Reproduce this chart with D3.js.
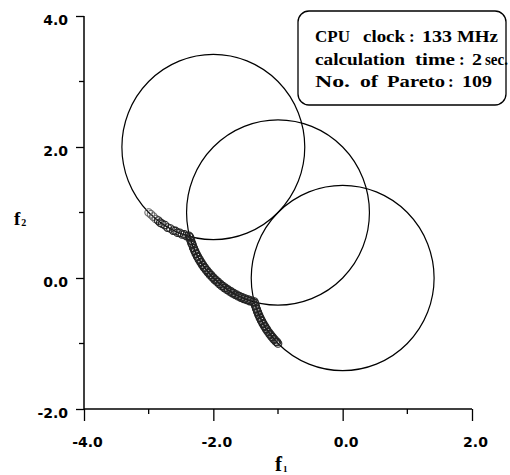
<!DOCTYPE html>
<html>
<head>
<meta charset="utf-8">
<script src="https://cdn.jsdelivr.net/npm/d3@7"></script>
<style>
  html, body { margin: 0; padding: 0; background: #fff; }
  svg { display: block; }
</style>
</head>
<body>
<div id="chart"></div>
<script>
// ---- data ----
const xTickValues = [-4, -2, 0, 2];
const xTickLabels = ["-4.0", "-2.0", "0.0", "2.0"];
const xMinorTicks = [-3, -1, 1];
const yTickValues = [-2, 0, 2, 4];
const yTickLabels = ["-2.0", "0.0", "2.0", "4.0"];
const yMinorTicks = [-1, 1, 3];

// constraint circles
const circleCx = [-2, -1, 0];
const circleCy = [2, 1, 0];
const circleR = [1.414, 1.414, 1.414];

// Pareto solutions (f1, f2)
const paretoF1 = [
  -3.000, -2.964, -2.928, -2.890, -2.851, -2.821, -2.791, -2.749, -2.707, -2.664,
  -2.620, -2.586, -2.553, -2.518, -2.484, -2.449, -2.413, -2.378,
  -2.366, -2.359, -2.352, -2.345, -2.337, -2.329, -2.320, -2.311, -2.302, -2.292,
  -2.282, -2.271, -2.260, -2.249, -2.237, -2.225, -2.212, -2.199, -2.186, -2.172,
  -2.159, -2.144, -2.129, -2.114, -2.099, -2.083, -2.067, -2.051, -2.034, -2.017,
  -2.000, -1.982, -1.964, -1.946, -1.928, -1.909, -1.890, -1.871, -1.851, -1.831,
  -1.811, -1.791, -1.770, -1.749, -1.728, -1.707, -1.686, -1.664, -1.642, -1.620,
  -1.598, -1.575, -1.553, -1.530, -1.507, -1.484, -1.460, -1.437, -1.414, -1.390,
  -1.366,
  -1.359, -1.352, -1.345, -1.337, -1.329, -1.320, -1.311, -1.302, -1.292, -1.282,
  -1.271, -1.260, -1.249, -1.237, -1.225, -1.212, -1.199, -1.186, -1.172, -1.159,
  -1.144, -1.129, -1.114, -1.099, -1.083, -1.067, -1.051, -1.034, -1.017, -1.000
];
const paretoF2 = [
  1.000, 0.972, 0.938, 0.901, 0.876, 0.845, 0.828, 0.808, 0.770, 0.756,
  0.724, 0.718, 0.692, 0.690, 0.664, 0.666, 0.640, 0.644,
  0.628, 0.618, 0.578, 0.570, 0.532, 0.524, 0.500, 0.462, 0.455, 0.418,
  0.410, 0.372, 0.366, 0.328, 0.322, 0.285, 0.280, 0.243, 0.238, 0.201,
  0.196, 0.162, 0.156, 0.122, 0.117, 0.084, 0.079, 0.047, 0.043, 0.011,
  0.007, -0.024, -0.027, -0.058, -0.060, -0.090, -0.092, -0.121, -0.122, -0.151,
  -0.152, -0.179, -0.179, -0.206, -0.205, -0.232, -0.230, -0.256, -0.253, -0.278,
  -0.275, -0.299, -0.295, -0.318, -0.313, -0.336, -0.330, -0.352, -0.345, -0.366,
  -0.360,
  -0.384, -0.420, -0.431, -0.466, -0.478, -0.513, -0.524, -0.559, -0.569, -0.604,
  -0.614, -0.648, -0.658, -0.692, -0.701, -0.734, -0.743, -0.776, -0.785, -0.817,
  -0.825, -0.857, -0.865, -0.896, -0.903, -0.934, -0.940, -0.970, -0.976, -1.000
];

const infoLines = [
  ["CPU", "clock", ":", "133", "MHz"],
  ["calculation", "time", ":", "2", "sec."],
  ["No.", "of", "Pareto", ":", "109"]
];

// ---- chart ----
const W = 510, H = 475;
const svg = d3.select("#chart").append("svg").attr("width", W).attr("height", H);

const x = d3.scaleLinear().domain([-4, 2]).range([84, 472]);
const y = d3.scaleLinear().domain([-2, 4]).range([409, 16]);

// circles
svg.append("g").selectAll("ellipse").data(circleCx).join("ellipse")
  .attr("cx", (d, i) => x(d))
  .attr("cy", (d, i) => y(circleCy[i]))
  .attr("rx", (d, i) => x(circleR[i]) - x(0))
  .attr("ry", (d, i) => y(0) - y(circleR[i]))
  .attr("fill", "none").attr("stroke", "#000").attr("stroke-width", 1.2);

// pareto points
svg.append("g").selectAll("circle").data(paretoF1).join("circle")
  .attr("cx", d => x(d))
  .attr("cy", (d, i) => y(paretoF2[i]))
  .attr("r", 3.8)
  .attr("fill", "none")
  .attr("stroke", (d, i) => i < 4 ? "#666" : "#222")
  .attr("stroke-width", 1.1);

// axes
const fontTick = "bold 14px 'DejaVu Sans', sans-serif";
const yAxis = d3.axisLeft(y).tickValues(yTickValues).tickSize(8)
  .tickFormat((d, i) => yTickLabels[i]);
const gy = svg.append("g").attr("transform", `translate(${x(-4)},0)`).call(yAxis);
gy.select(".domain").attr("stroke-width", 1.5).attr("d", `M0,${y(4)}V${y(-2)}`);
gy.selectAll(".tick line").attr("stroke-width", 1.3);
gy.selectAll(".tick text").style("font", fontTick).attr("fill", "#000")
  .attr("x", -16).attr("dy", null).attr("y", 8);
gy.selectAll(".minor").data(yMinorTicks).join("line").attr("class", "minor")
  .attr("x1", -5).attr("x2", 0).attr("y1", d => y(d)).attr("y2", d => y(d))
  .attr("stroke", "#000").attr("stroke-width", 1.3);

const xAxis = d3.axisBottom(x).tickValues(xTickValues).tickSize(12)
  .tickFormat((d, i) => xTickLabels[i]);
const gx = svg.append("g").attr("transform", `translate(0,${y(-2)})`).call(xAxis);
gx.select(".domain").attr("stroke-width", 1.5).attr("d", `M${x(-4)},0H${x(2)}`);
gx.selectAll(".tick line").attr("stroke-width", 1.3);
gx.selectAll(".tick text").style("font", fontTick).attr("fill", "#000")
  .attr("x", 3).attr("y", 38).attr("dy", null);
gx.selectAll(".minor").data(xMinorTicks).join("line").attr("class", "minor")
  .attr("x1", d => x(d)).attr("x2", d => x(d)).attr("y1", 0).attr("y2", 5)
  .attr("stroke", "#000").attr("stroke-width", 1.3);

// axis titles
const serif = "'Liberation Serif', 'Times New Roman', serif";
const t1 = svg.append("text").attr("x", 275).attr("y", 471)
  .style("font-family", serif).style("font-weight", "bold").style("font-size", "21px");
t1.append("tspan").text("f");
t1.append("tspan").text("1").style("font-size", "9px").attr("dx", 1).attr("dy", 1);

const t2 = svg.append("text").attr("x", 14).attr("y", 225)
  .style("font-family", serif).style("font-weight", "bold").style("font-size", "19px");
t2.append("tspan").text("f");
t2.append("tspan").text("2").style("font-size", "10px").attr("dx", 1).attr("dy", 1);

// info box
svg.append("rect").attr("x", 298).attr("y", 11).attr("width", 208).attr("height", 94)
  .attr("rx", 11).attr("ry", 11)
  .attr("fill", "#fff").attr("stroke", "#000").attr("stroke-width", 1.3);
const wordX = [
  [315, 363, 409, 422, 457],
  [315, 415, 459, 472, 485],
  [315, 360, 387, 448, 462]
];
const wordW = [
  [35, 42, 0, 30, 41],
  [90, 40, 0, 10, 23],
  [35, 18, 58, 0, 30]
];
const lineY = [42, 65, 87];
const info = svg.append("g")
  .style("font-family", serif).style("font-weight", "bold").style("font-size", "17px");
infoLines.forEach((words, li) => {
  info.append("g").selectAll("text").data(words).join("text")
    .attr("x", (d, wi) => wordX[li][wi]).attr("y", lineY[li])
    .attr("textLength", (d, wi) => wordW[li][wi] || null)
    .attr("lengthAdjust", "spacingAndGlyphs")
    .text(d => d);
});
</script>
</body>
</html>
